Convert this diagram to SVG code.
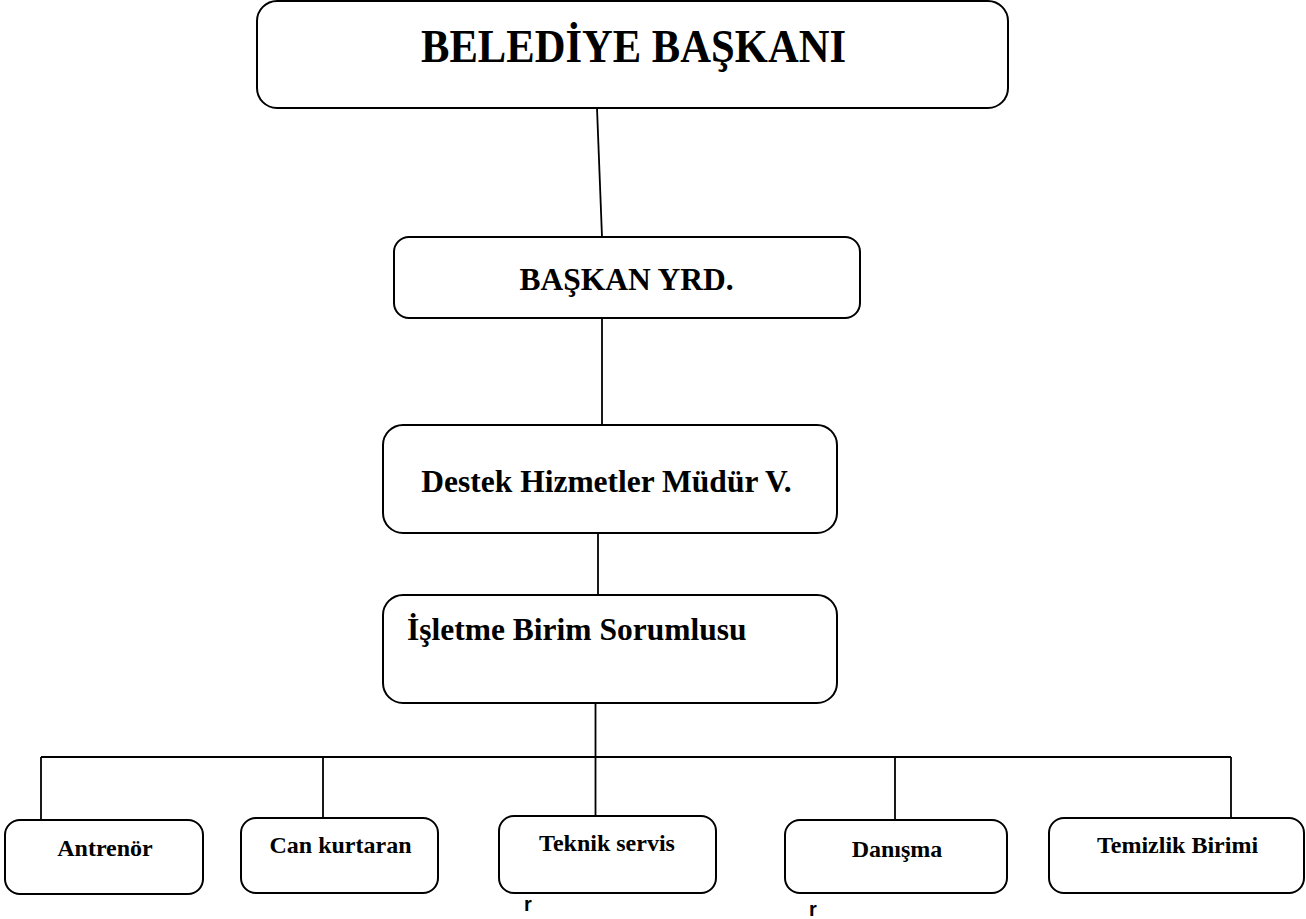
<svg xmlns="http://www.w3.org/2000/svg" width="1306" height="919" viewBox="0 0 1306 919">
<style>
.box{fill:#fff;stroke:#000;stroke-width:2}
.ln{stroke:#000;stroke-width:1.8;fill:none}
.t{font-family:"Liberation Serif","Times New Roman",serif;font-weight:bold;fill:#000}
.big{font-size:46px;text-anchor:middle}
.mid{font-size:31.5px}
.sm{font-size:24px;text-anchor:middle}
.r{font-family:"Liberation Sans",Arial,sans-serif;font-weight:bold;font-size:20px;fill:#000}
</style>
<rect width="1306" height="919" fill="#fff"/>
<g id="connectors">
<line class="ln" x1="597" y1="108" x2="602" y2="237"/>
<line class="ln" x1="602" y1="318" x2="602" y2="425"/>
<line class="ln" x1="598" y1="533" x2="598" y2="595"/>
<line class="ln" x1="595.5" y1="703" x2="595.5" y2="816"/>
<line class="ln" x1="41" y1="757" x2="1231" y2="757"/>
<line class="ln" x1="41" y1="757" x2="41" y2="820"/>
<line class="ln" x1="323" y1="757" x2="323" y2="818"/>
<line class="ln" x1="895" y1="757" x2="895" y2="820"/>
<line class="ln" x1="1231" y1="757" x2="1231" y2="818"/>
</g>
<g id="n-baskan">
<rect class="box" x="257" y="1" width="751" height="107" rx="20"/>
<text class="t big" x="633.5" y="62" textLength="425" lengthAdjust="spacingAndGlyphs">BELEDİYE BAŞKANI</text>
</g>
<g id="n-yrd">
<rect class="box" x="394" y="237" width="466" height="81" rx="15"/>
<text class="t mid" x="626.5" y="290" text-anchor="middle">BAŞKAN YRD.</text>
</g>
<g id="n-mudur">
<rect class="box" x="383" y="425" width="454" height="108" rx="20"/>
<text class="t mid" x="606.5" y="492" text-anchor="middle">Destek Hizmetler Müdür V.</text>
</g>
<g id="n-isletme">
<rect class="box" x="383" y="595" width="454" height="108" rx="20"/>
<text class="t mid" x="407" y="640">İşletme Birim Sorumlusu</text>
</g>
<g id="n-antrenor">
<rect class="box" x="5" y="820" width="198" height="74" rx="15"/>
<text class="t sm" x="105" y="856">Antrenör</text>
</g>
<g id="n-cankurtaran">
<rect class="box" x="241" y="818" width="197" height="75" rx="15"/>
<text class="t sm" x="340.5" y="853">Can kurtaran</text>
</g>
<g id="n-teknik">
<rect class="box" x="499" y="816" width="217" height="77" rx="15"/>
<text class="t sm" x="607" y="851">Teknik servis</text>
</g>
<g id="n-danisma">
<rect class="box" x="785" y="820" width="222" height="73" rx="15"/>
<text class="t sm" x="897" y="857">Danışma</text>
</g>
<g id="n-temizlik">
<rect class="box" x="1049" y="818" width="255" height="75" rx="15"/>
<text class="t sm" x="1177.5" y="853">Temizlik Birimi</text>
</g>
<text class="r" x="524" y="911">r</text>
<text class="r" x="809" y="916">r</text>
</svg>
